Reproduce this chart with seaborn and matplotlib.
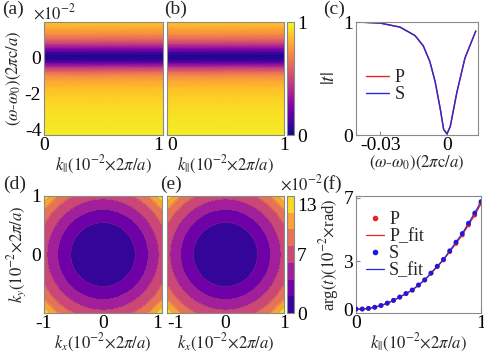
import numpy as np
import pandas as pd
import matplotlib
matplotlib.use("Agg")
import matplotlib.pyplot as plt
from matplotlib.lines import Line2D
import seaborn as sns

# ---- data ----
# (a),(b): |t| profile along omega (x1e-2), same for every k
omega_map = [2.0, 1.6, 1.3, 1.0, 0.75, 0.5, 0.3, 0.1, -0.1, -0.3, -0.55,
             -0.8, -1.0, -1.3, -1.7, -2.2, -2.8, -3.5, -4.3]
t_map = [0.88, 0.80, 0.72, 0.60, 0.45, 0.28, 0.12, 0.03, 0.05, 0.22, 0.45,
         0.62, 0.72, 0.80, 0.86, 0.90, 0.93, 0.95, 0.97]
k_map = [0.0, 1.0]

# (c): |t| vs omega
omega_c = [-0.0408, -0.03, -0.0212, -0.0144, -0.0107, -0.0077, -0.0053,
           -0.003, -0.0015, 0.0, 0.0015, 0.0045, 0.0081, 0.013]
t_p = [1.0, 0.99, 0.955, 0.88, 0.79, 0.65, 0.47, 0.23, 0.05, 0.01, 0.075,
       0.38, 0.68, 0.92]
t_s = [1.0, 0.99, 0.955, 0.88, 0.79, 0.65, 0.47, 0.23, 0.05, 0.01, 0.075,
       0.38, 0.68, 0.92]

# (d),(e): radii where arg(t) crosses each contour level (x1e-2 rad)
ring_level = [0, 2, 4, 6, 8, 10, 12, 14]
ring_radius = [0.0, 0.547, 0.77, 0.95, 1.12, 1.256, 1.345, 1.42]

# (f): arg(t) vs k
k_f = [0.0, 0.05, 0.1, 0.15, 0.2, 0.25, 0.3, 0.35, 0.4, 0.45, 0.5, 0.55,
       0.6, 0.65, 0.7, 0.75, 0.8, 0.85, 0.9, 0.95, 1.0]
arg_s = [0.0, 0.0, 0.04, 0.11, 0.22, 0.37, 0.54, 0.75, 0.97, 1.19, 1.51,
         1.83, 2.26, 2.69, 3.12, 3.66, 4.2, 4.74, 5.39, 6.03, 6.75]
arg_p = [0.0, 0.0, 0.04, 0.11, 0.22, 0.37, 0.54, 0.75, 0.97, 1.19, 1.5,
         1.82, 2.24, 2.66, 3.08, 3.6, 4.12, 4.65, 5.28, 5.9, 6.62]

# ---- style ----
sns.set_style("ticks")
plt.rcParams["font.family"] = ["Liberation Serif", "DejaVu Serif"]
plt.rcParams["mathtext.fontset"] = "stix"
plt.rcParams["axes.edgecolor"] = "#8a8a8a"
plt.rcParams["axes.linewidth"] = 0.8
plt.rcParams["xtick.direction"] = "in"
plt.rcParams["ytick.direction"] = "in"
plt.rcParams["xtick.color"] = "#8a8a8a"
plt.rcParams["ytick.color"] = "#8a8a8a"
plt.rcParams["xtick.labelcolor"] = "black"
plt.rcParams["ytick.labelcolor"] = "black"
plt.rcParams["xtick.major.size"] = 3
plt.rcParams["ytick.major.size"] = 3
plt.rcParams["xtick.major.pad"] = 1.5
plt.rcParams["ytick.major.pad"] = 2

TK = 14     # tick labels
LB = 12     # axis labels
W, H = 485, 358
fig = plt.figure(figsize=(W / 100, H / 100), dpi=100)


def box(x0, y0, x1, y1):
    return fig.add_axes([x0 / W, 1 - y1 / H, (x1 - x0) / W, (y1 - y0) / H])


def edge_align(ax):
    # keep end labels of neighbouring panels apart
    labs = ax.get_xticklabels()
    labs[0].set_horizontalalignment("left")
    labs[-1].set_horizontalalignment("right")


klab = r"$k_{||}(10^{-2}{\times}2\pi/a)$"
wlab = r"$(\omega$-$\omega_0)(2\pi\mathrm{c}/a)$"

ax_a = box(44, 22, 163, 135)
ax_b = box(167, 22, 284, 135)
cax_b = box(287, 22, 294, 135)
ax_c = box(356, 22, 478, 135)
ax_d = box(44, 196, 162, 313)
ax_e = box(167, 196, 284, 313)
cax_e = box(287, 196, 294, 313)
ax_f = box(356, 196, 481, 313)

# (a), (b) maps
Z = np.array([[v for _ in k_map] for v in t_map])
for ax in (ax_a, ax_b):
    mesh = ax.pcolormesh(k_map, omega_map, Z, cmap="plasma", vmin=0, vmax=1,
                         shading="gouraud", rasterized=True)
    ax.set_xlim(0, 1)
    ax.set_ylim(-4.3, 2.0)
    ax.set_xticks([0, 1])
    ax.set_xticklabels(["0", "1"], fontsize=TK)
    ax.set_yticks([0, -2, -4])
    ax.set_xlabel(klab, fontsize=LB, labelpad=0)
ax_a.xaxis.get_ticklabels()[-1].set_horizontalalignment("right")
ax_a.xaxis.get_ticklabels()[-1].set_x(1.02)
ax_b.xaxis.get_ticklabels()[0].set_horizontalalignment("left")
ax_a.set_yticklabels(["0", "-2", "-4"], fontsize=TK)
ax_a.set_ylabel(wlab, fontsize=LB, labelpad=1)
ax_b.set_yticklabels([])
cb = fig.colorbar(mesh, cax=cax_b, ticks=[0, 1])
cb.ax.set_yticklabels(["0", "1"], fontsize=TK)
cb.ax.tick_params(length=0, pad=2)
cb.outline.set_edgecolor("#8a8a8a")
fig.text(33 / W, 1 - 13 / H, r"$\times10^{-2}$", fontsize=LB, va="center")

# (c)
dc = pd.DataFrame({"w": omega_c + omega_c, "t": t_p + t_s,
                   "pol": ["P"] * len(t_p) + ["S"] * len(t_s)})
sns.lineplot(data=dc, x="w", y="t", hue="pol",
             palette={"P": "#e8202a", "S": "#2a2ad0"}, lw=1.0, ax=ax_c)
ax_c.set_xlim(-0.041, 0.014)
ax_c.set_ylim(0, 1)
ax_c.set_xticks([-0.03, 0])
ax_c.set_xticklabels(["-0.03", "0"], fontsize=TK)
ax_c.set_yticks([0, 1])
ax_c.set_yticklabels(["0", "1"], fontsize=TK)
ax_c.set_xlabel(wlab, fontsize=LB, labelpad=0)
ax_c.set_ylabel(r"$|t|$", fontsize=14, labelpad=4)
ax_c.legend(loc="lower left", bbox_to_anchor=(0.02, 0.22), frameon=False,
            fontsize=13, handlelength=1.3, handletextpad=0.3,
            labelspacing=0.0, borderaxespad=0)

# (d), (e) contour maps
kk = np.linspace(-1, 1, 401)
KX, KY = np.meshgrid(kk, kk)
field = np.interp(np.hypot(KX, KY), ring_radius, ring_level)
for ax in (ax_d, ax_e):
    cs = ax.contourf(KX, KY, field, levels=ring_level, cmap="plasma")
    ax.contour(KX, KY, field, levels=ring_level[1:-1], colors="#555555",
               linewidths=0.3, alpha=0.6)
    ax.set_xlim(-1, 1)
    ax.set_ylim(-1, 1)
    ax.set_xticks([-1, 0, 1])
    ax.set_xticks([-0.5, 0.5], minor=True)
    ax.set_yticks([-1, 0, 1])
    ax.set_yticks([-0.5, 0.5], minor=True)
    ax.tick_params(which="minor", length=2, direction="in", color="#8a8a8a")
    ax.set_xticklabels(["-1", "0", "1"], fontsize=TK)
    ax.set_xlabel(r"$k_x(10^{-2}{\times}2\pi/a)$", fontsize=LB, labelpad=0)
ax_d.xaxis.get_ticklabels()[-1].set_horizontalalignment("right")
ax_e.xaxis.get_ticklabels()[0].set_horizontalalignment("left")
ax_d.set_yticklabels(["", "0", "1"], fontsize=TK)
ax_d.set_ylabel(r"$k_y(10^{-2}{\times}2\pi/a)$", fontsize=LB, labelpad=2)
ax_e.set_yticklabels([])
cb2 = fig.colorbar(cs, cax=cax_e, ticks=[0, 7, 13])
cb2.ax.set_yticklabels(["0", "7", "13"], fontsize=TK)
cb2.ax.tick_params(length=0, pad=2)
cb2.outline.set_edgecolor("#8a8a8a")
fig.text(280 / W, 1 - 184 / H, r"$\times10^{-2}$", fontsize=LB, va="center")

# (f)
df_pts = pd.DataFrame({"k": k_f + k_f, "arg": arg_p + arg_s,
                       "kind": ["P"] * len(arg_p) + ["S"] * len(arg_s)})
sns.lineplot(x=k_f, y=arg_p, color="#e8202a", lw=0.9, ax=ax_f)
sns.lineplot(x=k_f, y=arg_s, color="#2a2ad0", lw=0.9, ax=ax_f)
sns.scatterplot(data=df_pts, x="k", y="arg", hue="kind",
                palette={"P": "#e8202a", "S": "#1a1ae0"}, s=12,
                edgecolor="none", ax=ax_f, legend=False, zorder=3)
ax_f.set_xlim(0, 1)
ax_f.set_ylim(-0.25, 7.1)
ax_f.set_xticks([0, 1])
ax_f.set_xticklabels(["0", "1"], fontsize=TK)
ax_f.set_yticks([0, 3, 7])
ax_f.set_yticklabels(["0", "3", "7"], fontsize=TK)
ax_f.set_xlabel(klab, fontsize=LB, labelpad=0)
ax_f.set_ylabel(r"arg$(t)(10^{-2}{\times}$rad$)$", fontsize=LB, labelpad=2)
handles = [
    Line2D([], [], ls="none", marker="o", ms=3, color="#e8202a"),
    Line2D([], [], color="#e8202a", lw=0.9),
    Line2D([], [], ls="none", marker="o", ms=3, color="#1a1ae0"),
    Line2D([], [], color="#2a2ad0", lw=0.9),
]
ax_f.legend(handles, ["P", "P_fit", "S", "S_fit"], loc="upper left",
            bbox_to_anchor=(0.02, 0.93), frameon=False, fontsize=13,
            handlelength=1.0, handletextpad=0.3, labelspacing=0.0,
            borderaxespad=0)

# panel tags
for x, y, s in [(2, 9, "(a)"), (164, 9, "(b)"), (323, 9, "(c)"),
                (3, 184, "(d)"), (160, 184, "(e)"), (322, 184, "(f)")]:
    fig.text(x / W, 1 - y / H, s, fontsize=14, va="center")

fig.savefig("out.png", dpi=100)
